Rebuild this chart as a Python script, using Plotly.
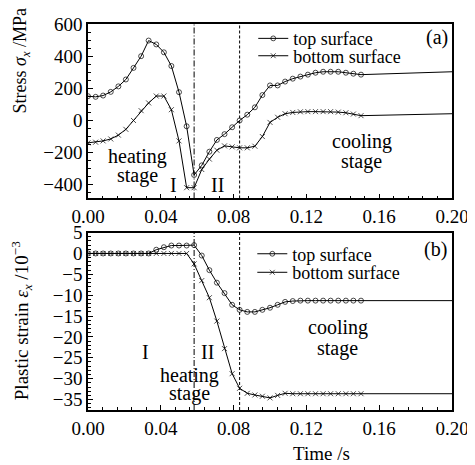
import plotly.graph_objects as go

# ---- data ----
time_s = [0.0, 0.0042, 0.0083, 0.0125, 0.0167, 0.0208, 0.025, 0.0292, 0.0333, 0.0375,
          0.0417, 0.0458, 0.05, 0.0542, 0.0583, 0.0625, 0.0667, 0.0708, 0.075, 0.0792,
          0.0833, 0.0875, 0.0917, 0.0958, 0.1, 0.1042, 0.1083, 0.1125, 0.1167, 0.1208,
          0.125, 0.1292, 0.1333, 0.1375, 0.1417, 0.1458, 0.15, 0.2]

stress_top = [151, 147, 155, 178, 212, 255, 327, 400, 497, 473,
              424, 339, 176, -36, -339, -279, -194, -121, -85, -42,
              0, 36, 82, 158, 218, 218, 242, 260, 273, 285,
              297, 303, 303, 303, 297, 291, 285, 303]

stress_bottom = [-139, -135, -127, -115, -91, -55, 0, 61, 109, 152,
                 152, 67, -127, -418, -418, -305, -240, -185, -158, -164,
                 -170, -170, -160, -100, -12, 20, 42, 50, 54, 55,
                 55, 55, 55, 52, 48, 40, 30, 42]

strain_top = [0, 0, 0, 0, 0, 0, 0, 0, 0, 0.9,
              1.5, 1.9, 1.9, 1.9, 2.0, -0.5, -4.0, -7.0, -9.5, -12.3,
              -13.5, -14.0, -14.0, -13.5, -13.0, -12.3, -11.6, -11.4, -11.3, -11.3,
              -11.3, -11.3, -11.3, -11.3, -11.3, -11.3, -11.3, -11.3]

strain_bottom = [0, 0, 0, 0, 0, 0, 0, 0, 0, 0,
                 0, 0, 0, 0, -2.5, -6.5, -10.6, -16.2, -22.8, -28.8,
                 -32.3, -33.5, -33.9, -34.2, -34.6, -34.0, -33.5, -33.6, -33.6, -33.6,
                 -33.6, -33.6, -33.6, -33.6, -33.6, -33.6, -33.6, -33.6]

series_names = ["top surface", "bottom surface"]
x_ticks = [0.0, 0.04, 0.08, 0.12, 0.16, 0.20]
stage_lines = [0.0583, 0.0833]

FONT = "Liberation Serif"
msize = [5] * (len(time_s) - 1) + [0]

fig = go.Figure()

def add(y, name, sym, xa, ya, leg):
    fig.add_trace(go.Scatter(
        x=time_s, y=y, name=name, mode="lines+markers",
        line=dict(color="black", width=1),
        marker=dict(symbol=sym, size=msize, color="black",
                    line=dict(color="black", width=1)),
        xaxis=xa, yaxis=ya, legend=leg, showlegend=True))

add(stress_top, series_names[0], "circle-open", "x", "y", "legend")
add(stress_bottom, series_names[1], "x-thin-open", "x", "y", "legend2")
add(strain_top, series_names[0], "circle-open", "x2", "y2", "legend3")
add(strain_bottom, series_names[1], "x-thin-open", "x2", "y2", "legend4")

axis_common = dict(showline=True, linecolor="black", linewidth=1.5, mirror=True,
                   ticks="inside", ticklen=5, tickwidth=1, tickcolor="black",
                   showgrid=False, zeroline=False,
                   tickfont=dict(family=FONT, size=19, color="black"))

xax = dict(axis_common, range=[0, 0.2], tickvals=x_ticks, tickformat=".2f",
           minor=dict(dtick=0.008, ticks="inside", ticklen=3, tickcolor="black"))

# page body has an 8px margin: figure is sized so the page fills 475x465
fig.update_layout(
    width=467, height=457,
    margin=dict(l=80, r=17, t=6, b=55),
    paper_bgcolor="white", plot_bgcolor="white",
    font=dict(family=FONT, size=18, color="black"),
    xaxis=dict(xax, domain=[0, 1], anchor="y"),
    yaxis=dict(axis_common, domain=[0.548, 1.0], range=[-485, 600], dtick=200,
               tick0=0, anchor="x",
               minor=dict(dtick=50, ticks="inside", ticklen=3, tickcolor="black")),
    xaxis2=dict(xax, domain=[0, 1], anchor="y2"),
    yaxis2=dict(axis_common, domain=[0, 0.4596], range=[-37.5, 5], dtick=5,
                tick0=0, anchor="x2",
                minor=dict(dtick=1, ticks="inside", ticklen=3, tickcolor="black")),
)

leg_common = dict(bgcolor="rgba(0,0,0,0)", font=dict(family=FONT, size=18),
                  xanchor="left", yanchor="middle", borderwidth=0)
fig.update_layout(
    legend=dict(leg_common, x=0.454, y=0.962),
    legend2=dict(leg_common, x=0.454, y=0.917),
    legend3=dict(leg_common, x=0.4514, y=0.404),
    legend4=dict(leg_common, x=0.4514, y=0.356),
)

# stage boundary lines
for xr, yr in (("x", "y domain"), ("x2", "y2 domain")):
    fig.add_shape(type="line", xref=xr, yref=yr, x0=stage_lines[0], x1=stage_lines[0],
                  y0=0, y1=1, line=dict(color="black", width=1, dash="6px,2px,1px,2px"))
    fig.add_shape(type="line", xref=xr, yref=yr, x0=stage_lines[1], x1=stage_lines[1],
                  y0=0, y1=1, line=dict(color="black", width=1, dash="3px,2px"))

def txt(x, y, s, xr="x", yr="y", size=20):
    fig.add_annotation(x=x, y=y, xref=xr, yref=yr, text=s, showarrow=False,
                       font=dict(family=FONT, size=size, color="black"),
                       xanchor="center", yanchor="middle")

txt(0.027, -224, "heating")
txt(0.027, -345, "stage")
txt(0.047, -400, "I")
txt(0.0714, -400, "II")
txt(0.1503, -133, "cooling")
txt(0.1503, -255, "stage")
txt(0.192, 515, "(a)")

txt(0.0314, -23.5, "I", "x2", "y2")
txt(0.0654, -23.5, "II", "x2", "y2")
txt(0.0557, -29.3, "heating", "x2", "y2")
txt(0.0557, -33.5, "stage", "x2", "y2")
txt(0.1373, -17.7, "cooling", "x2", "y2")
txt(0.1373, -22.8, "stage", "x2", "y2")
txt(0.191, 0.9, "(b)", "x2", "y2")

# axis titles
fig.add_annotation(x=-0.182, y=0.905, xref="paper", yref="paper", textangle=-90,
                   text="Stress <i>σ</i><sub><i>x</i></sub> /MPa", showarrow=False,
                   font=dict(family=FONT, size=18, color="black"),
                   xanchor="center", yanchor="middle")
fig.add_annotation(x=-0.182, y=0.232, xref="paper", yref="paper", textangle=-90,
                   text="Plastic strain <i>ε</i><sub><i>x</i></sub> /10<sup>−3</sup>",
                   showarrow=False, font=dict(family=FONT, size=19, color="black"),
                   xanchor="center", yanchor="middle")
fig.add_annotation(x=(325 - 88) / 370, y=-(455 - 410) / 396, xref="paper", yref="paper",
                   text="Time /s", showarrow=False,
                   font=dict(family=FONT, size=19, color="black"),
                   xanchor="center", yanchor="middle")

fig.write_html("out.html")
